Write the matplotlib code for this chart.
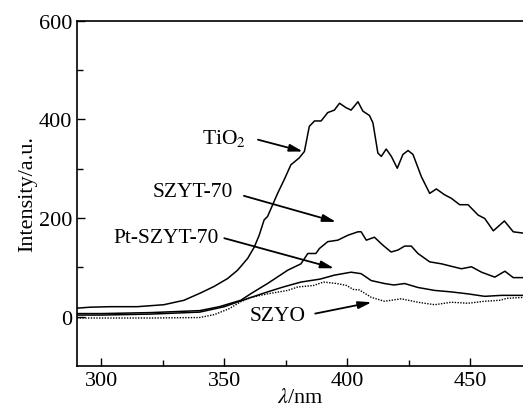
import numpy as np
import matplotlib
matplotlib.use('Agg')
import matplotlib.pyplot as plt

plt.rcParams['font.family'] = ['Liberation Serif', 'DejaVu Serif']
plt.rcParams['mathtext.fontset'] = 'stix'

# spectra (wavelength in nm, intensity in a.u.)
tio2_x = [290, 295.5, 303.7, 314.6, 325.4, 333.6, 340.4, 345.8, 351.3, 355.4, 359.5, 362.2,
          364.2, 366.2, 367.6, 371.7, 374.4, 377.1, 380.5, 382.6, 384.6, 386.7, 389.4,
          392.1, 394.8, 396.9, 399.5, 401.6, 404.4, 406.4, 409.1, 410.5, 412.5, 413.9,
          415.9, 418, 420.4, 422.7, 424.8, 426.8, 430.2, 433.6, 436.3, 439.7, 442.4,
          445.8, 449.2, 453.3, 456, 459.5, 464, 467.6, 472.2]
tio2_y = [17, 19, 20, 20, 24, 33, 48, 61, 77, 94, 118, 141,
          165, 196, 203, 250, 278, 308, 322, 335, 386, 397, 397,
          414, 419, 433, 424, 419, 436, 417, 408, 393, 332, 325,
          340, 325, 301, 329, 337, 329, 284, 250, 259, 247, 240,
          227, 227, 206, 199, 174, 194, 172, 169]

szyt_x = [290, 300, 320, 340, 348, 356.7, 361, 367.6, 375.8, 381.2, 384, 387.3, 388.7, 392.1,
          396.2, 400.3, 404.4, 405.7, 407.8, 411.1, 414.5, 417.9, 420.7, 423.4, 426.1,
          428.8, 433.6, 438.4, 442.4, 446.5, 450.6, 454.7, 460.1, 464.2, 467.6, 472.2]
szyt_y = [6, 6, 8, 12, 20, 33, 47, 67, 94, 107, 128, 128, 138, 152,
          155, 165, 172, 172, 155, 161, 145, 131, 135, 143, 143,
          128, 111, 107, 102, 97, 101, 90, 80, 92, 79, 79]

pt_x = [290, 300, 320, 340, 350, 358, 367.6, 374, 381.2, 389, 394.8, 401.6, 405.7, 409.8,
        415.2, 419, 423.4, 428.8, 435.6, 442.4, 449.2, 456, 462.9, 472.2]
pt_y = [3, 3, 5, 9, 20, 34, 50, 60, 70, 76, 84, 90, 87, 73,
        67, 64, 67, 59, 53, 50, 46, 41, 43, 43]

szyo_x = [290, 300, 320, 340, 346, 352, 356.7, 361, 367.6, 375.8, 379.9, 386.3, 390.4,
          395.8, 399.8, 402.5, 405, 409.8, 415.2, 422, 428.8, 435.6, 442.4, 449.2, 456,
          462.2, 465, 472.2]
szyo_y = [-3, -3, -3, -2, 4, 16, 30, 39, 46, 53, 60, 63, 70,
          67, 63, 55, 54, 39, 31, 36, 29, 24, 29, 27, 31,
          33, 37, 39]

# annotation text, text position, arrow tail, arrow tip
labels = ['TiO$_2$', 'SZYT-70', 'Pt-SZYT-70', 'SZYO']
label_xy = [(349.8, 363), (337, 253), (326.5, 161), (371.8, 2)]
tail_xy = [(363.7, 359), (358, 245), (350, 159), (387, 6)]
tip_xy = [(382, 335), (395.5, 192), (394.7, 98), (410, 29)]

fig = plt.figure(figsize=(5.23, 4.14), dpi=100)
ax = fig.add_axes([0.147, 0.114, 0.855, 0.833])

ax.plot(tio2_x, tio2_y, color='black', lw=1.1)
ax.plot(szyt_x, szyt_y, color='black', lw=1.1)
ax.plot(pt_x, pt_y, color='black', lw=1.1)
ax.plot(szyo_x, szyo_y, color='black', lw=1.0, ls=(0, (1, 1)))

for lab, lxy, txy, hxy in zip(labels, label_xy, tail_xy, tip_xy):
    ax.text(lxy[0], lxy[1], lab, fontsize=15.5, ha='center', va='center')
    ax.annotate('', xy=hxy, xytext=txy,
                arrowprops=dict(arrowstyle='-|>,head_length=0.8,head_width=0.22',
                                color='black', lw=1.3, shrinkA=0, shrinkB=0))

ax.set_xlim(290, 472)
ax.set_ylim(-100, 600)
ax.set_xticks([300, 350, 400, 450])
ax.set_xticks([325, 375, 425], minor=True)
ax.set_yticks([0, 200, 400, 600])
ax.set_yticks([100, 300, 500], minor=True)
ax.tick_params(which='both', direction='in', labelsize=16, width=1.0)
ax.tick_params(which='major', length=6)
ax.tick_params(which='minor', length=4)
for s in ax.spines.values():
    s.set_linewidth(1.2)

ax.set_xlabel(r'$\lambda$/nm', fontsize=16, labelpad=-1)
ax.set_ylabel('Intensity/a.u.', fontsize=16, labelpad=1)

fig.savefig('out.png', dpi=100)
